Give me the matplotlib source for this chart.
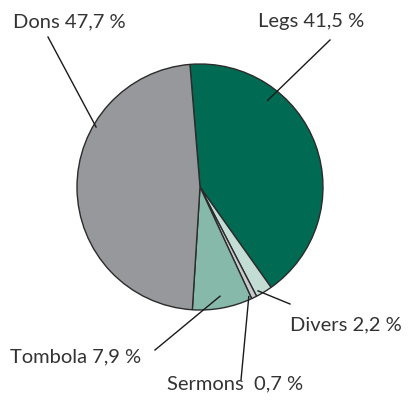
import numpy as np
import matplotlib
matplotlib.use("Agg")
import matplotlib.pyplot as plt

W, H = 408, 400

labels = ["Legs", "Divers", "Sermons", "Tombola", "Dons"]
values = [41.5, 2.2, 0.7, 7.9, 47.7]
label_texts = ["Legs 41,5 %", "Divers 2,2 %", "Sermons  0,7 %", "Tombola 7,9 %", "Dons 47,7 %"]
colors = ["#006b52", "#c3ddd5", "#c9cacc", "#87b9aa", "#97989c"]

CENTER = (200, H - 187)
RADIUS = 123
START = 94.7

# leader line anchor inside wedge (angle deg, radius px), text left/center position (px, image coords)
anchors = [(52, 110), (-60.8, 119), (-66, 120), (-79.6, 111), (150, 120)]
line_ends = [(330, 40), (290, 304), (241, 380), (155, 350), (48, 37)]
text_pos = [(258, 22), (290, 325), (167, 384), (10, 357), (13, 22)]

plt.rcParams["font.family"] = ["Lato", "DejaVu Sans"]

fig = plt.figure(figsize=(W / 100, H / 100), dpi=100)
ax = fig.add_axes([0, 0, 1, 1])
ax.pie(values, colors=colors, startangle=START, counterclock=False,
       center=CENTER, radius=RADIUS, frame=True,
       wedgeprops=dict(edgecolor="#2b2b2b", linewidth=1.0))
ax.set_xlim(0, W)
ax.set_ylim(0, H)
ax.set_aspect("equal")
ax.axis("off")

for (ang, r), (ex, ey), (tx, ty), txt in zip(anchors, line_ends, text_pos, label_texts):
    sx = CENTER[0] + r * np.cos(np.radians(ang))
    sy = CENTER[1] + r * np.sin(np.radians(ang))
    ax.plot([sx, ex], [sy, H - ey], color="#1a1a1a", linewidth=1.0)
    ax.text(tx, H - ty, txt, ha="left", va="center", fontsize=14.5,
            fontweight="normal", color="#333333")

fig.savefig("out.png", dpi=100)
